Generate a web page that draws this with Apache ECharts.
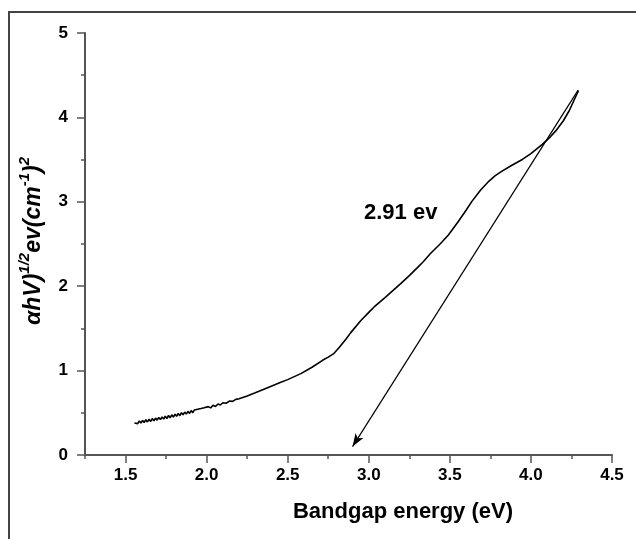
<!DOCTYPE html>
<html>
<head>
<meta charset="utf-8">
<script src="https://cdn.jsdelivr.net/npm/echarts@6/dist/echarts.min.js"></script>
<style>
html,body{margin:0;padding:0;background:#fff;}
#chart{width:636px;height:539px;}
</style>
</head>
<body>
<div id="chart"></div>
<script>
// ---- data ----
const xLabelValues = [1.5, 2.0, 2.5, 3.0, 3.5, 4.0, 4.5];
const xMinorTickValues = [1.25, 1.75, 2.25, 2.75, 3.25, 3.75, 4.25];
const yLabelValues = [0, 1, 2, 3, 4, 5];

const curveX = [
  1.555, 1.565, 1.575, 1.585, 1.595, 1.605, 1.615, 1.625, 1.635, 1.645,
  1.655, 1.665, 1.675, 1.685, 1.695, 1.705, 1.715, 1.725, 1.735, 1.745,
  1.755, 1.765, 1.775, 1.785, 1.795, 1.805, 1.815, 1.825, 1.835, 1.845,
  1.855, 1.865, 1.875, 1.885, 1.895, 1.905, 1.915, 1.925, 1.935, 1.945,
  1.955, 1.965, 1.975, 1.985, 1.995, 2.010, 2.025, 2.040, 2.055, 2.070,
  2.085, 2.100, 2.120, 2.140, 2.160, 2.180, 2.200,
  2.25, 2.30, 2.376, 2.45, 2.50, 2.581, 2.65, 2.715, 2.75, 2.786,
  2.82, 2.86, 2.889, 2.95, 3.00, 3.033, 3.10, 3.15, 3.197, 3.25,
  3.30, 3.336, 3.382, 3.44, 3.491, 3.55, 3.60, 3.636, 3.69, 3.74,
  3.78, 3.822, 3.88, 3.947, 4.00, 4.07, 4.12, 4.153, 4.20, 4.236,
  4.265, 4.294
];
const curveY = [
  0.379, 0.396, 0.372, 0.403, 0.378, 0.410, 0.385, 0.418, 0.392, 0.424,
  0.398, 0.432, 0.404, 0.438, 0.412, 0.446, 0.419, 0.452, 0.426, 0.460,
  0.432, 0.468, 0.440, 0.476, 0.449, 0.483, 0.458, 0.493, 0.466, 0.501,
  0.476, 0.509, 0.485, 0.518, 0.493, 0.526, 0.502, 0.534, 0.511, 0.543,
  0.520, 0.551, 0.530, 0.560, 0.541, 0.573, 0.558, 0.589, 0.575, 0.604,
  0.592, 0.619, 0.613, 0.639, 0.635, 0.659, 0.667,
  0.700, 0.737, 0.798, 0.855, 0.893, 0.964, 1.040, 1.122, 1.160, 1.205,
  1.280, 1.375, 1.450, 1.590, 1.690, 1.754, 1.865, 1.950, 2.031, 2.125,
  2.220, 2.290, 2.390, 2.500, 2.607, 2.760, 2.900, 3.005, 3.140, 3.243,
  3.310, 3.363, 3.430, 3.502, 3.570, 3.681, 3.770, 3.840, 3.960, 4.079,
  4.200, 4.319
];
const tangentStart = [4.29, 4.32];
const tangentEnd = [2.90, 0.10];

const xTitle = 'Bandgap energy (eV)';
const annotationText = '2.91 ev';

// ---- chart ----
const FONT = '"Liberation Sans", Arial, sans-serif';
const AXIS_COLOR = '#555';
const gridBox = { left: 85, right: 24, top: 33, bottom: 84 };

const chart = echarts.init(document.getElementById('chart'), null, { renderer: 'canvas' });
const curveData = curveX.map((x, i) => [x, curveY[i]]);

chart.setOption({
  animation: false,
  backgroundColor: '#fff',
  grid: [
    Object.assign({}, gridBox),
    Object.assign({}, gridBox)
  ],
  xAxis: [
    {
      type: 'value', gridIndex: 0, min: 1.25, max: 4.5, position: 'bottom',
      axisLine: { show: true, onZero: false, lineStyle: { color: AXIS_COLOR, width: 2 } },
      axisTick: { show: true, customValues: xLabelValues, length: 8, lineStyle: { color: AXIS_COLOR, width: 1.5 } },
      axisLabel: {
        show: true, customValues: xLabelValues, margin: 12,
        formatter: v => Number(v).toFixed(1),
        color: '#000', fontWeight: 'bold', fontSize: 17, fontFamily: FONT
      },
      splitLine: { show: false }
    },
    {
      type: 'value', gridIndex: 1, min: 1.25, max: 4.5, position: 'bottom',
      axisLine: { show: false, onZero: false },
      axisTick: { show: true, customValues: xMinorTickValues, length: 4, lineStyle: { color: AXIS_COLOR, width: 1.5 } },
      axisLabel: { show: false },
      splitLine: { show: false }
    }
  ],
  yAxis: [
    {
      type: 'value', gridIndex: 0, min: 0, max: 5, interval: 1,
      axisLine: { show: true, onZero: false, lineStyle: { color: AXIS_COLOR, width: 2 } },
      axisTick: { show: true, length: 8, lineStyle: { color: AXIS_COLOR, width: 1.5 } },
      minorTick: { show: true, splitNumber: 2, length: 4, lineStyle: { color: AXIS_COLOR, width: 1.5 } },
      axisLabel: {
        show: true, margin: 17,
        formatter: v => String(v),
        color: '#000', fontWeight: 'bold', fontSize: 17, fontFamily: FONT
      },
      splitLine: { show: false },
      minorSplitLine: { show: false }
    },
    {
      type: 'value', gridIndex: 1, min: 0, max: 5, show: false
    }
  ],
  series: [
    {
      type: 'line',
      xAxisIndex: 0, yAxisIndex: 0,
      data: curveData,
      showSymbol: false,
      smooth: false,
      lineStyle: { color: '#000', width: 1.6 },
      silent: true,
      markLine: {
        silent: true,
        animation: false,
        label: { show: false },
        lineStyle: { color: '#000', width: 1.2, type: 'solid' },
        symbol: ['none', 'arrow'],
        symbolSize: 11,
        data: [
          [
            { coord: tangentStart, symbol: 'none' },
            { coord: tangentEnd, symbol: 'arrow', symbolSize: [7, 13] }
          ]
        ]
      }
    }
  ],
  graphic: [
    {
      type: 'polyline', silent: true,
      shape: { points: [[9, 545], [9, 12], [640, 12]] },
      style: { stroke: '#444', lineWidth: 2, fill: null }
    },
    {
      type: 'text', silent: true,
      x: 403, y: 512,
      style: {
        text: xTitle, align: 'center', verticalAlign: 'middle',
        fontFamily: FONT, fontWeight: 'bold', fontSize: 22, fill: '#000'
      }
    },
    {
      type: 'text', silent: true,
      x: 364, y: 213,
      style: {
        text: annotationText, align: 'left', verticalAlign: 'middle',
        fontFamily: FONT, fontWeight: 'bold', fontSize: 22, fill: '#000'
      }
    },
    {
      type: 'text', silent: true,
      x: 31, y: 241,
      rotation: Math.PI / 2,
      style: {
        text: '{m|\u03b1hV)}{s|1/2}{m|ev(cm}{s|-1}{m|)}{s|2}',
        align: 'center', verticalAlign: 'middle',
        fill: '#000',
        rich: {
          m: { fontFamily: FONT, fontWeight: 'bold', fontStyle: 'italic', fontSize: 23, lineHeight: 28, verticalAlign: 'bottom', fill: '#000' },
          s: { fontFamily: FONT, fontWeight: 'bold', fontStyle: 'italic', fontSize: 15, lineHeight: 28, verticalAlign: 'top', fill: '#000' }
        }
      }
    }
  ]
});
</script>
</body>
</html>
